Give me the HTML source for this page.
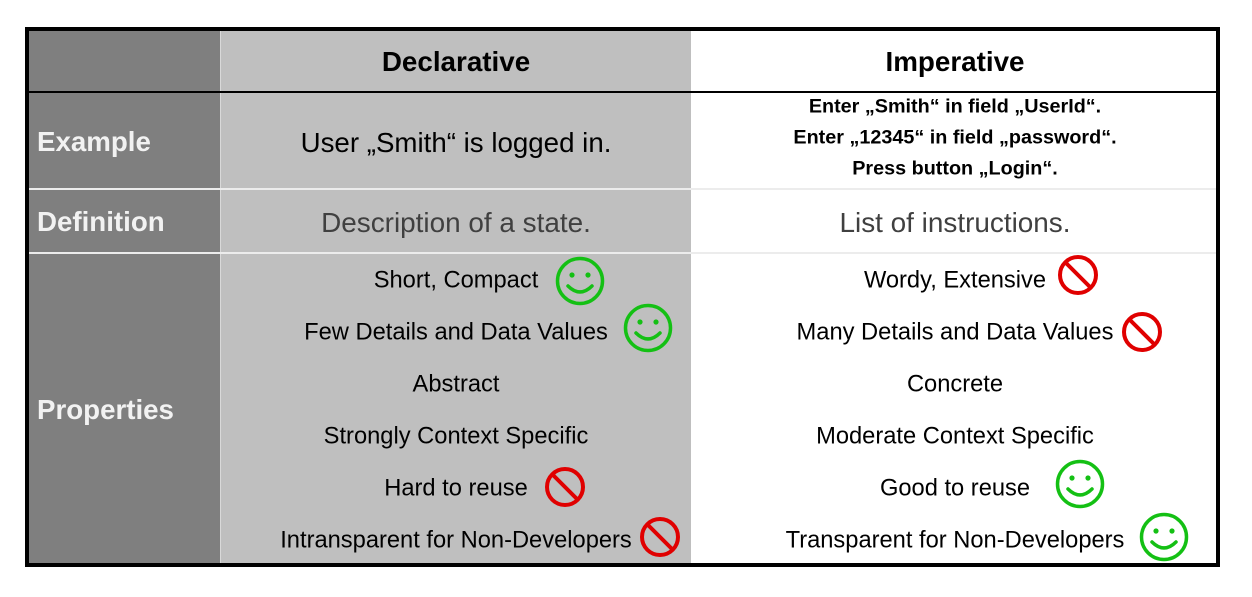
<!DOCTYPE html>
<html><head><style>
body{margin:0;width:1252px;height:597px;background:#fff;position:relative;overflow:hidden;font-family:"Liberation Sans",Arial,sans-serif}
.a{position:absolute}
.t{position:absolute;transform:translate(-50%,-50%);white-space:nowrap;color:#000}
.l{position:absolute;transform:translateY(-50%);color:#f2f2f2;font-weight:bold;font-size:27.7px;left:37px}
</style></head><body>
<div class="a" style="left:25px;top:27px;width:1187px;height:532px;border:4px solid #000"></div>
<div class="a" style="left:29px;top:31px;width:191px;height:532px;background:#7f7f7f"></div>
<div class="a" style="left:220px;top:31px;width:471px;height:532px;background:#bfbfbf"></div>
<div class="a" style="left:220px;top:31px;width:1px;height:532px;background:#d9d9d9"></div>
<div class="a" style="left:29px;top:91px;width:1187px;height:2px;background:#000"></div>
<div class="a" style="left:29px;top:188px;width:1187px;height:2px;background:#ececec"></div>
<div class="a" style="left:29px;top:252px;width:1187px;height:2px;background:#ececec"></div>
<div class="t" style="left:456px;top:62px;font-size:27.8px;font-weight:bold">Declarative</div>
<div class="t" style="left:955px;top:62px;font-size:27.8px;font-weight:bold">Imperative</div>
<div class="l" style="top:142px">Example</div>
<div class="l" style="top:222px">Definition</div>
<div class="l" style="top:410px">Properties</div>
<div class="t" style="left:456px;top:143px;font-size:27.7px">User „Smith“ is logged in.</div>
<div class="t" style="left:955px;top:107px;font-size:19.8px;font-weight:bold">Enter „Smith“ in field „UserId“.</div>
<div class="t" style="left:955px;top:138px;font-size:19.8px;font-weight:bold">Enter „12345“ in field „password“.</div>
<div class="t" style="left:955px;top:169px;font-size:19.8px;font-weight:bold">Press button „Login“.</div>
<div class="t" style="left:456px;top:223px;font-size:27.9px;color:#404040">Description of a state.</div>
<div class="t" style="left:955px;top:223px;font-size:27.9px;color:#404040">List of instructions.</div>
<div class="t" style="left:456px;top:281px;font-size:23.7px">Short, Compact</div>
<div class="t" style="left:456px;top:333px;font-size:23.7px">Few Details and Data Values</div>
<div class="t" style="left:456px;top:385px;font-size:23.7px">Abstract</div>
<div class="t" style="left:456px;top:437px;font-size:23.7px">Strongly Context Specific</div>
<div class="t" style="left:456px;top:489px;font-size:23.7px">Hard to reuse</div>
<div class="t" style="left:456px;top:541px;font-size:23.7px">Intransparent for Non-Developers</div>
<div class="t" style="left:955px;top:281px;font-size:23.7px">Wordy, Extensive</div>
<div class="t" style="left:955px;top:333px;font-size:23.7px">Many Details and Data Values</div>
<div class="t" style="left:955px;top:385px;font-size:23.7px">Concrete</div>
<div class="t" style="left:955px;top:437px;font-size:23.7px">Moderate Context Specific</div>
<div class="t" style="left:955px;top:489px;font-size:23.7px">Good to reuse</div>
<div class="t" style="left:955px;top:541px;font-size:23.7px">Transparent for Non-Developers</div>
<svg class="a" style="left:0;top:0" width="1252" height="597">
<defs>
<g id="s" fill="none" stroke="#14c014" stroke-width="3.5"><circle r="22.5"/><path d="M-12 5 Q0 17 12 5" stroke-linecap="round"/><circle cx="-8" cy="-6" r="2.6" fill="#14c014" stroke="none"/><circle cx="8" cy="-6" r="2.6" fill="#14c014" stroke="none"/></g>
<g id="p" fill="none" stroke="#e00000" stroke-width="4"><circle r="18"/><line x1="-12.5" y1="-12.5" x2="12.5" y2="12.5"/></g>
</defs>
<use href="#s" x="580" y="281"/>
<use href="#s" x="648" y="328"/>
<use href="#s" x="1080" y="484"/>
<use href="#s" x="1164" y="537"/>
<use href="#p" x="1078" y="275"/>
<use href="#p" x="1142" y="332"/>
<use href="#p" x="565" y="487"/>
<use href="#p" x="660" y="537"/>
</svg>
</body></html>
